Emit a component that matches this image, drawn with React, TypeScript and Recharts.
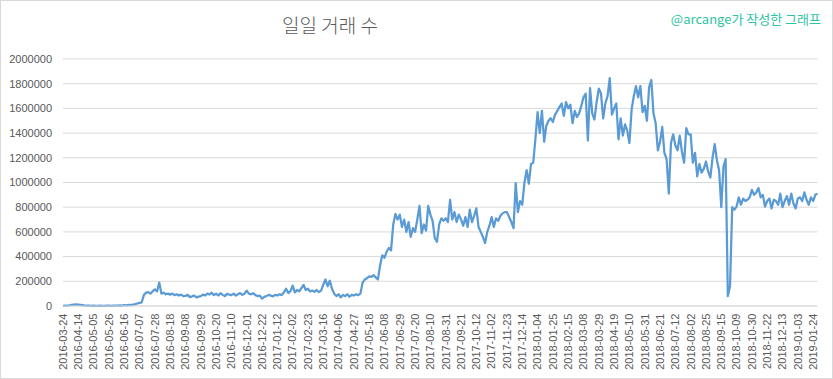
import React from 'react';
import { LineChart, Line, XAxis, YAxis, CartesianGrid } from 'recharts';

// tick labels shown on the category axis (one every 7 plotted points)
const tickLabels = [
  '2016-03-24', '2016-04-14', '2016-05-05', '2016-05-26', '2016-06-16', '2016-07-07', '2016-07-28',
  '2016-08-18', '2016-09-08', '2016-09-29', '2016-10-20', '2016-11-10', '2016-12-01', '2016-12-22',
  '2017-01-12', '2017-02-02', '2017-02-23', '2017-03-16', '2017-04-06', '2017-04-27', '2017-05-18',
  '2017-06-08', '2017-06-29', '2017-07-20', '2017-08-10', '2017-08-31', '2017-09-21', '2017-10-12',
  '2017-11-02', '2017-11-23', '2017-12-14', '2018-01-04', '2018-01-25', '2018-02-15', '2018-03-08',
  '2018-03-29', '2018-04-19', '2018-05-10', '2018-05-31', '2018-06-21', '2018-07-12', '2018-08-02',
  '2018-08-25', '2018-09-15', '2018-10-09', '2018-10-30', '2018-11-22', '2018-12-13', '2019-01-03',
  '2019-01-24',
];

const yTicks = [0, 200000, 400000, 600000, 800000, 1000000, 1200000, 1400000, 1600000, 1800000, 2000000];

// daily transaction counts, sampled (7 samples per labelled period)
const tx2016 = [
  2000, 3000, 3000, 6000, 10000, 12000, 13000,
  12000, 10000, 7000, 4000, 3000, 3000, 2000,
  3000, 2000, 2000, 3000, 2000, 2000, 3000,
  3000, 2000, 4000, 3000, 3000, 5000, 4000,
  8000, 5000, 10000, 7000, 12000, 15000, 20000,
  25000, 30000, 90000, 108000, 112000, 100000, 120000,
  135000, 118000, 190000, 100000, 108000, 95000, 100000,
  92000, 100000, 88000, 95000, 85000, 92000, 80000,
  82000, 90000, 72000, 78000, 85000, 70000, 76000,
  80000, 92000, 85000, 100000, 93000, 108000, 88000,
  100000, 85000, 104000, 90000, 80000, 98000, 92000,
  88000, 100000, 84000, 95000, 105000, 90000, 100000,
  125000, 100000, 94000, 104000, 88000, 80000, 84000,
  60000, 74000, 80000, 90000, 84000, 78000, 90000,
];

const tx2017 = [
  85000, 95000, 88000, 110000, 140000, 105000, 120000,
  165000, 110000, 130000, 118000, 145000, 170000, 130000,
  140000, 118000, 125000, 115000, 130000, 112000, 125000,
  170000, 215000, 160000, 205000, 140000, 100000, 80000,
  95000, 70000, 90000, 80000, 95000, 75000, 90000,
  85000, 95000, 88000, 100000, 190000, 215000, 225000,
  240000, 235000, 250000, 232000, 215000, 330000, 410000,
  390000, 440000, 470000, 450000, 660000, 745000, 700000,
  740000, 640000, 700000, 600000, 680000, 560000, 630000,
  600000, 700000, 810000, 590000, 660000, 610000, 810000,
  740000, 690000, 550000, 520000, 660000, 710000, 690000,
  710000, 680000, 860000, 700000, 760000, 680000, 740000,
  700000, 650000, 720000, 640000, 780000, 680000, 730000,
  790000, 640000, 600000, 560000, 510000, 600000, 650000,
  720000, 640000, 710000, 690000, 730000, 750000, 760000,
  760000, 720000, 680000, 630000, 995000, 760000, 850000,
  820000, 1000000, 1100000, 990000, 1150000, 1160000, 1350000,
];

const tx2018 = [
  1570000, 1400000, 1580000, 1330000, 1460000, 1500000, 1520000,
  1490000, 1550000, 1580000, 1610000, 1640000, 1540000, 1650000,
  1600000, 1630000, 1480000, 1580000, 1530000, 1560000, 1620000,
  1690000, 1720000, 1340000, 1765000, 1560000, 1510000, 1650000,
  1760000, 1720000, 1520000, 1640000, 1700000, 1846000, 1550000,
  1600000, 1640000, 1350000, 1520000, 1380000, 1470000, 1420000,
  1320000, 1590000, 1700000, 1780000, 1690000, 1780000, 1570000,
  1620000, 1500000, 1770000, 1830000, 1560000, 1480000, 1260000,
  1330000, 1450000, 1240000, 1190000, 910000, 1320000, 1390000,
  1300000, 1260000, 1380000, 1250000, 1160000, 1440000, 1390000,
  1390000, 1160000, 1240000, 1050000, 1150000, 1080000, 1110000,
  1170000, 1090000, 1040000, 1200000, 1310000, 1180000, 1100000,
  800000, 1130000, 1190000, 80000, 160000, 800000, 780000,
  805000, 880000, 820000, 870000, 850000, 860000, 880000,
  940000, 900000, 920000, 955000, 880000, 900000, 805000,
  850000, 870000, 790000, 860000, 850000, 820000, 910000,
  800000, 850000, 890000, 820000, 910000, 830000, 790000,
];

const tx2019 = [
  870000, 880000, 850000, 920000, 860000, 820000, 880000,
  850000, 900000, 910000,
];

const SAMPLES_PER_LABEL = 7;
const series = [...tx2016, ...tx2017, ...tx2018, ...tx2019];
const data = series.map((v, i) => ({ step: i, tx: v }));
const xTicks = tickLabels.map((_, i) => i * SAMPLES_PER_LABEL);

const AXIS_FONT = "'Liberation Sans', Arial, sans-serif";
const KR_FONT = "'Noto Sans CJK KR', 'Noto Sans', sans-serif";

const XTick = (props: any) => {
  const { x, y, payload } = props;
  const label = tickLabels[Math.round(payload.value / SAMPLES_PER_LABEL)];
  const ty = y + 7.5;
  return (
    <text
      x={x}
      y={ty}
      transform={`rotate(-90 ${x} ${ty})`}
      textAnchor="end"
      dy="0.35em"
      fontSize={11}
      fontFamily={AXIS_FONT}
      fill="#595959"
    >
      {label}
    </text>
  );
};

const YTick = (props: any) => {
  const { x, y, payload } = props;
  return (
    <text
      x={x - 11}
      y={y}
      textAnchor="end"
      dy="0.35em"
      fontSize={11}
      fontFamily={AXIS_FONT}
      fill="#595959"
    >
      {payload.value}
    </text>
  );
};

export default function App() {
  return (
    <div style={{ position: 'absolute', left: 0, top: 0, width: 833, height: 379, background: '#fff' }}>
      <LineChart
        width={833}
        height={379}
        data={data}
        margin={{ top: 59, right: 15.5, bottom: 0, left: 0 }}
      >
        <CartesianGrid horizontal vertical={false} stroke="#d9d9d9" strokeWidth={1} />
        <XAxis
          dataKey="step"
          type="number"
          domain={[0, series.length - 1]}
          ticks={xTicks}
          interval={0}
          height={73}
          tickLine={false}
          tickSize={0}
          tickMargin={0}
          axisLine={{ stroke: '#d9d9d9' }}
          tick={<XTick />}
        />
        <YAxis
          type="number"
          domain={[0, 2000000]}
          ticks={yTicks}
          interval={0}
          width={63}
          tickLine={false}
          tickSize={0}
          tickMargin={0}
          axisLine={false}
          tick={<YTick />}
        />
        <Line
          type="linear"
          dataKey="tx"
          stroke="#5b9bd5"
          strokeWidth={2.25}
          strokeLinejoin="round"
          dot={false}
          activeDot={false}
          isAnimationActive={false}
        />
      </LineChart>
      <div
        style={{
          position: 'absolute',
          left: 330,
          top: 24,
          transform: 'translate(-50%, -50%)',
          whiteSpace: 'nowrap',
          fontFamily: KR_FONT,
          fontSize: 19,
          fontWeight: 300,
          color: '#595959',
        }}
      >
        일일 거래 수
      </div>
      <div
        style={{
          position: 'absolute',
          right: 12,
          top: 18,
          transform: 'translateY(-50%)',
          whiteSpace: 'nowrap',
          fontFamily: KR_FONT,
          fontSize: 13,
          color: '#2ec4a3',
        }}
      >
        @arcange가 작성한 그래프
      </div>
      <div
        style={{
          position: 'absolute',
          left: 0,
          top: 0,
          width: 833,
          height: 379,
          boxSizing: 'border-box',
          border: '1px solid #d9d9d9',
          pointerEvents: 'none',
        }}
      />
    </div>
  );
}
